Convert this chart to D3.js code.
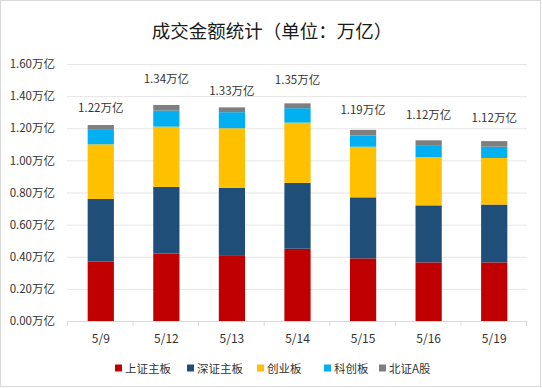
<html>
    <head>
        <meta charset="utf-8">
    </head>

    <body>

        <script src='https://d3js.org/d3.v7.min.js' charset='utf-8'></script>
        <script type="text/javascript">

        // data
        var dates = ["5/9", "5/12", "5/13", "5/14", "5/15", "5/16", "5/19"];
        var boards = ["上证主板", "深证主板", "创业板", "科创板", "北证A股"];
        var shMain  = [0.37, 0.42, 0.41, 0.45, 0.39, 0.365, 0.365];
        var szMain  = [0.39, 0.415, 0.42, 0.41, 0.38, 0.355, 0.36];
        var chinext = [0.34, 0.375, 0.37, 0.375, 0.315, 0.30, 0.29];
        var star    = [0.09, 0.10, 0.10, 0.09, 0.07, 0.075, 0.07];
        var bse     = [0.03, 0.035, 0.03, 0.03, 0.035, 0.03, 0.035];
        var totals  = [1.22, 1.34, 1.33, 1.35, 1.19, 1.12, 1.12];
        var yTicks  = [0, 0.2, 0.4, 0.6, 0.8, 1.0, 1.2, 1.4, 1.6];

        var colors = ["#C00000", "#1F4E79", "#FFC000", "#00B0F0", "#7F7F7F"];
        // hand-placed total labels sit at different heights above the bars
        var labelLift = [18, 27, 17, 24, 21, 26, 24];

        var width = 542;
        var height = 388;
        var font = "'Noto Sans CJK SC', 'Noto Sans', sans-serif";

        var bodySelection = d3.select("body")
            .style('margin', "0");

        var svg = bodySelection.append("svg")
            .attr("width", width)
            .attr("height", height)
            .style("font-family", font);

        // chart border
        svg.append("rect")
            .attr("x", 0.5).attr("y", 0.5)
            .attr("width", 540).attr("height", 386)
            .attr("fill", "#fff")
            .attr("stroke", "#d9d9d9");

        var x = d3.scaleBand()
            .domain(dates)
            .range([68, 527])
            .paddingInner(0.6)
            .paddingOuter(0.3);

        var y = d3.scaleLinear()
            .domain([0, 1.6])
            .range([321, 64]);

        // title
        svg.append("text")
            .attr("x", 272).attr("y", 30)
            .attr("text-anchor", "middle")
            .attr("dominant-baseline", "central")
            .style("font-size", "18.5px")
            .attr("fill", "#1a1a1a")
            .text("成交金额统计（单位：万亿）");

        // gridlines + y labels
        var yAxis = svg.append("g")
            .attr("transform", "translate(67,0)")
            .call(d3.axisLeft(y).tickValues(yTicks)
                .tickSize(-460).tickPadding(12)
                .tickFormat(function(d) { return d.toFixed(2) + "万亿"; }));
        yAxis.select(".domain").remove();
        yAxis.selectAll("line").attr("stroke", "#e6e6e6");
        yAxis.selectAll("text")
            .style("font-size", "11.5px")
            .style("font-family", font)
            .attr("fill", "#333");

        // stacked bars
        var rows = dates.map(function(d, i) {
            return { date: d, 0: shMain[i], 1: szMain[i], 2: chinext[i], 3: star[i], 4: bse[i] };
        });
        var stack = d3.stack().keys([0, 1, 2, 3, 4]);

        svg.append("g").selectAll("g")
            .data(stack(rows))
            .enter().append("g")
                .attr("fill", function(d, i) { return colors[i]; })
            .selectAll("rect")
            .data(function(d) { return d; })
            .enter().append("rect")
                .attr("x", function(d) { return x(d.data.date); })
                .attr("width", x.bandwidth())
                .attr("y", function(d) { return y(d[1]); })
                .attr("height", function(d) { return y(d[0]) - y(d[1]); });

        // x axis
        var xAxis = svg.append("g")
            .attr("transform", "translate(0,321)")
            .call(d3.axisBottom(x).tickSize(0).tickPadding(13));
        xAxis.select(".domain").attr("stroke", "#d9d9d9");
        xAxis.selectAll("text")
            .style("font-size", "12px")
            .style("font-family", font)
            .attr("fill", "#333");
        // ticks between categories
        xAxis.selectAll(".sep")
            .data(d3.range(dates.length + 1))
            .enter().append("line")
                .attr("x1", function(i) { return 67.5 + i * x.step(); })
                .attr("x2", function(i) { return 67.5 + i * x.step(); })
                .attr("y1", 0).attr("y2", 5)
                .attr("stroke", "#d9d9d9");

        // total labels
        var tops = stack(rows)[4];
        svg.append("g").selectAll("text")
            .data(totals)
            .enter().append("text")
                .attr("x", function(d, i) { return x(dates[i]) + x.bandwidth() / 2; })
                .attr("y", function(d, i) { return y(tops[i][1]) - labelLift[i]; })
                .attr("text-anchor", "middle")
                .attr("dominant-baseline", "central")
                .style("font-size", "11.5px")
                .attr("fill", "#333")
                .text(function(d) { return d.toFixed(2) + "万亿"; });

        // legend
        var legendX = [115, 187, 257, 324, 379];
        var legend = svg.append("g").selectAll("g")
            .data(boards)
            .enter().append("g")
                .attr("transform", function(d, i) { return "translate(" + legendX[i] + ",368)"; });
        legend.append("rect")
            .attr("x", 0).attr("y", -3.5)
            .attr("width", 7).attr("height", 7)
            .attr("fill", function(d, i) { return colors[i]; });
        legend.append("text")
            .attr("x", 10).attr("y", 0)
            .attr("dominant-baseline", "central")
            .style("font-size", "11.5px")
            .attr("fill", "#333")
            .text(function(d) { return d; });

        </script>

    </body>
</html>
